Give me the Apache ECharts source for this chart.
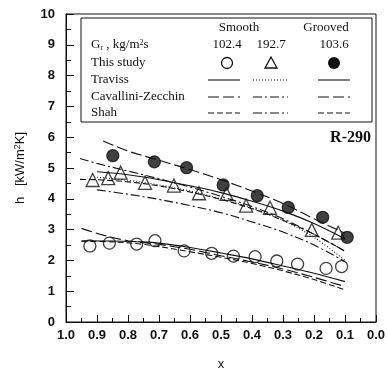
<!DOCTYPE html>
<html>
<head>
<meta charset="utf-8">
<script src="https://cdn.jsdelivr.net/npm/echarts@6/dist/echarts.min.js"></script>
<style>html,body{margin:0;padding:0;background:#fff;}#c{width:387px;height:370px;}</style>
</head>
<body>
<div id="c"></div>
<script>
// ---------- data (x = vapour quality, h in kW/m2K) ----------
const smooth1024_exp = [[0.923,2.47],[0.860,2.56],[0.772,2.53],[0.713,2.64],[0.619,2.31],[0.530,2.23],[0.460,2.14],[0.390,2.12],[0.320,1.98],[0.253,1.88],[0.161,1.74],[0.111,1.80]];
const smooth1927_exp = [[0.914,4.61],[0.864,4.67],[0.824,4.85],[0.745,4.52],[0.652,4.43],[0.571,4.18],[0.482,4.16],[0.419,3.78],[0.342,3.71],[0.207,2.99],[0.122,2.90]];
const grooved1036_exp = [[0.849,5.40],[0.715,5.20],[0.611,5.01],[0.493,4.45],[0.383,4.10],[0.283,3.72],[0.172,3.40],[0.093,2.75]];

const smooth1024_traviss = [[0.95,2.64],[0.85,2.63],[0.75,2.60],[0.7,2.56],[0.6,2.42],[0.5,2.24],[0.4,2.05],[0.3,1.82],[0.2,1.58],[0.1,1.31]];
const smooth1024_cavallini = [[0.95,3.04],[0.88,2.82],[0.8,2.64],[0.7,2.52],[0.6,2.36],[0.5,2.15],[0.4,1.95],[0.3,1.72],[0.2,1.45],[0.1,1.15]];
const smooth1024_shah = [[0.95,2.62],[0.85,2.60],[0.75,2.52],[0.6,2.28],[0.5,2.10],[0.4,1.90],[0.3,1.66],[0.2,1.38],[0.1,1.04]];

const smooth1927_traviss = [[0.9,4.70],[0.8,4.60],[0.7,4.45],[0.6,4.25],[0.5,4.00],[0.4,3.70],[0.3,3.30],[0.2,2.75],[0.1,2.00]];
const smooth1927_cavallini = [[0.9,4.29],[0.8,4.15],[0.7,3.98],[0.6,3.78],[0.5,3.55],[0.4,3.25],[0.3,2.92],[0.2,2.50],[0.1,1.96]];
const smooth1927_shah = [[0.955,5.31],[0.9,5.15],[0.8,4.90],[0.7,4.65],[0.6,4.38],[0.5,4.08],[0.4,3.75],[0.3,3.35],[0.2,2.85],[0.1,2.30]];

const grooved1036_traviss = [[0.9,4.88],[0.8,4.78],[0.7,4.62],[0.6,4.42],[0.5,4.20],[0.4,3.92],[0.3,3.60],[0.2,3.20],[0.1,2.70]];
const grooved1036_cavallini = [[0.88,5.88],[0.8,5.55],[0.7,5.25],[0.6,4.95],[0.5,4.62],[0.4,4.25],[0.3,3.85],[0.2,3.35],[0.1,2.88]];
const grooved1036_shah = [[0.955,4.63],[0.9,4.62],[0.8,4.55],[0.7,4.42],[0.6,4.22],[0.5,3.98],[0.4,3.68],[0.3,3.30],[0.2,2.85],[0.1,2.30]];

const fluxLabels = ['102.4','192.7','103.6'];
const rowLabels = ['This study','Traviss','Cavallini-Zecchin','Shah'];

// ---------- styles ----------
const INK = '#111';
const dashLong = [11,4];
const dashShort = [6,3];
const dashDot = [9,3,2,3];
const dotted = [1,2];
const SERIF = '"Liberation Serif", "DejaVu Serif", serif';
const SANS = '"Liberation Sans", Arial, sans-serif';

function lineSeries(name, data, dash) {
  return {
    name, type: 'line', data, smooth: 0.35, showSymbol: false, silent: true, z: 2,
    lineStyle: { color: INK, width: 1.1, type: dash }
  };
}
function scatterSeries(name, data, symbol, size, filled) {
  return {
    name, type: 'scatter', data, symbol, symbolSize: size, z: 3, silent: true,
    itemStyle: { color: filled ? INK : 'rgba(0,0,0,0)', borderColor: INK, borderWidth: 1.3 }
  };
}

// ---------- legend graphics ----------
const col = [227, 271, 334];
const sx = [[208,240],[253,288],[318,350]];
const rowY = { head: 28, g: 45, study: 63, trav: 80, cav: 97, shah: 113 };
const legend = [];
legend.push({ type: 'rect', shape: { x: 81, y: 18, width: 291, height: 104 }, style: { fill: '#fff', stroke: INK, lineWidth: 1 }, z: 10 });
const tstyle = (txt, x, y, align) => ({ type: 'text', z: 11, style: { text: txt, x, y, textAlign: align || 'left', textVerticalAlign: 'middle', font: '13px ' + SERIF, fill: INK } });
legend.push(tstyle('Smooth', 239, rowY.head, 'center'));
legend.push(tstyle('Grooved', 326, rowY.head, 'center'));
legend.push({ type: 'text', z: 11, style: {
  text: '{a|G}{s|r}{a| , kg/m}{p|2}{a|s}', x: 91, y: rowY.g, textVerticalAlign: 'middle',
  rich: {
    a: { font: '13px ' + SERIF, fill: INK, lineHeight: 18, verticalAlign: 'middle' },
    s: { font: '8px ' + SERIF, fill: INK, lineHeight: 18, verticalAlign: 'bottom', padding: [0,0,2,0] },
    p: { font: '8px ' + SERIF, fill: INK, lineHeight: 18, verticalAlign: 'top', padding: [3,0,0,0] }
  } } });
fluxLabels.forEach((f, i) => legend.push(tstyle(f, col[i], rowY.g, 'center')));
legend.push(tstyle(rowLabels[0], 91, rowY.study));
legend.push(tstyle(rowLabels[1], 91, rowY.trav));
legend.push(tstyle(rowLabels[2], 91, rowY.cav));
legend.push(tstyle(rowLabels[3], 91, rowY.shah));
legend.push({ type: 'circle', z: 11, shape: { cx: col[0], cy: rowY.study, r: 5.5 }, style: { fill: '#fff', stroke: INK, lineWidth: 1.3 } });
legend.push({ type: 'polygon', z: 11, shape: { points: [[col[1]-6, rowY.study+5],[col[1]+6, rowY.study+5],[col[1], rowY.study-6]] }, style: { fill: '#fff', stroke: INK, lineWidth: 1.3 } });
legend.push({ type: 'circle', z: 11, shape: { cx: col[2], cy: rowY.study, r: 6 }, style: { fill: INK } });
const sample = (i, y, dash) => ({ type: 'line', z: 11, shape: { x1: sx[i][0], y1: y, x2: sx[i][1], y2: y }, style: { stroke: INK, lineWidth: 1.1, lineDash: dash } });
legend.push(sample(0, rowY.trav, null));
legend.push(sample(1, rowY.trav, dotted));
legend.push(sample(2, rowY.trav, null));
legend.push(sample(0, rowY.cav, dashLong));
legend.push(sample(1, rowY.cav, dashDot));
legend.push(sample(2, rowY.cav, dashLong));
legend.push(sample(0, rowY.shah, dashShort));
legend.push(sample(1, rowY.shah, dashDot));
legend.push(sample(2, rowY.shah, dashShort));
legend.push({ type: 'text', z: 11, style: { text: 'R-290', x: 371, y: 138, textAlign: 'right', textVerticalAlign: 'middle', font: 'bold 16px ' + SERIF, fill: INK } });

const chart = echarts.init(document.getElementById('c'), null, { renderer: 'canvas' });
chart.setOption({
  animation: false,
  backgroundColor: '#fff',
  grid: { left: 66, right: 11, top: 14, bottom: 48, show: true, borderColor: INK, borderWidth: 1, backgroundColor: 'transparent', containLabel: false, outerBoundsMode: 'none' },
  xAxis: {
    type: 'value', min: 0, max: 1, interval: 0.1, inverse: true,
    name: 'x', nameLocation: 'middle', nameGap: 36,
    nameTextStyle: { fontFamily: SANS, fontSize: 13, color: INK },
    axisLine: { show: true, onZero: false, lineStyle: { color: INK, width: 1 } },
    axisTick: { show: true, inside: true, length: 7, lineStyle: { color: INK } },
    minorTick: { show: true, splitNumber: 2, length: 4, lineStyle: { color: INK } },
    splitLine: { show: false },
    axisLabel: { margin: 7, fontFamily: SANS, fontSize: 13, fontWeight: 'bold', color: INK, formatter: v => v.toFixed(1), showMinLabel: true, showMaxLabel: true }
  },
  yAxis: {
    type: 'value', min: 0, max: 10, interval: 1,
    name: '{t|h   [kW/m}{p|2}{t|K]}', nameLocation: 'middle', nameGap: 38, nameRotate: 90,
    nameTextStyle: { rich: {
      t: { fontFamily: SANS, fontSize: 13, color: INK },
      p: { fontFamily: SANS, fontSize: 9, color: INK, verticalAlign: 'top', padding: [0,0,6,0] }
    } },
    axisLine: { show: true, onZero: false, lineStyle: { color: INK, width: 1 } },
    axisTick: { show: true, inside: true, length: 8, lineStyle: { color: INK } },
    minorTick: { show: true, splitNumber: 2, length: 5, lineStyle: { color: INK } },
    splitLine: { show: false },
    axisLabel: { margin: 11, fontFamily: SANS, fontSize: 13, fontWeight: 'bold', color: INK }
  },
  graphic: legend,
  series: [
    lineSeries('102.4 Traviss', smooth1024_traviss, 'solid'),
    lineSeries('102.4 Cavallini-Zecchin', smooth1024_cavallini, dashLong),
    lineSeries('102.4 Shah', smooth1024_shah, dashShort),
    lineSeries('192.7 Traviss', smooth1927_traviss, dotted),
    lineSeries('192.7 Cavallini-Zecchin', smooth1927_cavallini, dashDot),
    lineSeries('192.7 Shah', smooth1927_shah, dashDot),
    lineSeries('103.6 Traviss', grooved1036_traviss, 'solid'),
    lineSeries('103.6 Cavallini-Zecchin', grooved1036_cavallini, dashLong),
    lineSeries('103.6 Shah', grooved1036_shah, dashShort),
    scatterSeries('102.4 This study', smooth1024_exp, 'circle', 12, false),
    scatterSeries('192.7 This study', smooth1927_exp, 'triangle', 13, false),
    scatterSeries('103.6 This study', grooved1036_exp, 'circle', 12, true)
  ]
});
</script>
</body>
</html>
